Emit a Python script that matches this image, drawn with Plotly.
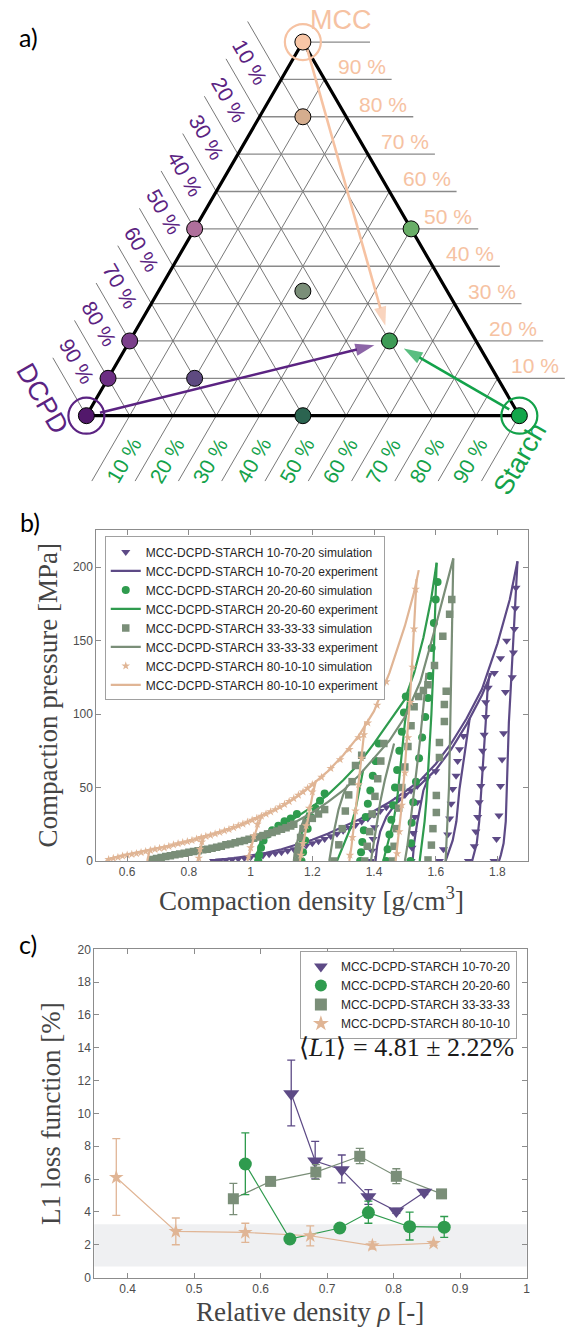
import plotly.graph_objects as go

W, H = 573, 1339
SQ3 = 3 ** 0.5 / 2

# ---------------- colours ----------------
C_PURPLE = "#5D4A86"
C_GREEN = "#2F9B4E"
C_GREY = "#7A8E78"
C_TAN = "#E0B595"
C_MCC = "#F6C2A2"
C_DCPD = "#5B2382"
C_STARCH = "#13A24A"
AX_COL = "#8C8C8C"
TICK_FONT = dict(family="Liberation Sans, Arial", size=12, color="#4D4D4D")
SERIF = "Liberation Serif, Times New Roman, serif"

# ---------------- panel a: mixture compositions (%) ----------------
grid_pct = [10, 20, 30, 40, 50, 60, 70, 80, 90]
mix_mcc = [100, 80, 50, 50, 33.3, 20, 20, 10, 10, 0, 0, 0]
mix_dcpd = [0, 10, 50, 0, 33.3, 20, 80, 90, 70, 50, 100, 0]
mix_starch = [0, 10, 0, 50, 33.3, 60, 0, 0, 20, 50, 0, 100]
mix_fill = ["#F8C6A6", "#D5AD8E", "#AF6F9B", "#69AE67", "#7A8E78", "#3E9B56",
            "#7B3F8B", "#6C2E83", "#5E4A80", "#2B6450", "#52186B", "#12A64A"]
pure_colors = [C_MCC, C_DCPD, C_STARCH]

# ---------------- panel b: compaction curves (density g/cm3, pressure MPa) ----------------
# MCC-DCPD-STARCH 10-70-20
purple_exp = [
    ([0.87, 0.90, 0.95, 1.00, 1.05, 1.10, 1.15, 1.20, 1.25, 1.30, 1.35, 1.40, 1.45, 1.50, 1.55,
      1.60, 1.65, 1.70, 1.75, 1.80, 1.84, 1.865],
     [0, 1, 2, 3.5, 5.5, 8, 11, 14.5, 18.5, 23, 28, 34, 40, 47, 55, 66, 80, 97, 117, 148, 178, 204]),
    ([1.405, 1.41, 1.42, 1.44, 1.47, 1.51, 1.55, 1.60, 1.65, 1.70, 1.75, 1.78],
     [0, 10, 20, 30, 39, 46, 52, 62, 76, 93, 113, 128]),
    ([1.525, 1.53, 1.54, 1.55, 1.56, 1.575], [0, 12, 26, 38, 48, 56]),
    ([1.632, 1.642, 1.655, 1.667, 1.677, 1.693, 1.71], [0, 6, 14, 27, 49, 72, 97]),
    ([1.718, 1.725, 1.733, 1.741, 1.752, 1.762, 1.768, 1.775], [0, 5, 12, 27, 60, 94, 117, 128]),
    ([1.805, 1.811, 1.82, 1.827, 1.832, 1.837, 1.843, 1.85, 1.858, 1.865],
     [0, 4, 12, 27, 60, 94, 117, 145, 175, 204]),
]
purple_sim = [
    ([0.88, 0.90, 0.92, 0.94, 0.96, 0.98, 1.00, 1.02, 1.04, 1.06, 1.08, 1.10, 1.12, 1.14, 1.16,
      1.18, 1.20, 1.22, 1.24, 1.26, 1.28, 1.30, 1.32, 1.34, 1.36, 1.38, 1.40, 1.42, 1.44, 1.46,
      1.48, 1.50, 1.52, 1.54, 1.57, 1.60],
     [0, 0.3, 0.7, 1, 1.5, 2, 2.5, 3, 3.7, 4.5, 5.2, 6, 7, 8, 9.2, 10.5, 12, 13.4, 15, 16.8, 18.6,
      20.5, 22.5, 24.5, 26.8, 29, 31.5, 34, 36.5, 39, 42, 45, 48, 51, 56, 61]),
    ([1.39, 1.393, 1.397, 1.402], [0, 7, 15, 23]),
    ([1.52, 1.523, 1.527, 1.532, 1.54], [0, 9, 19, 30, 40]),
    ([1.612, 1.625, 1.639, 1.645, 1.65, 1.655, 1.666, 1.671, 1.677, 1.69],
     [0, 8, 18, 29, 39, 49, 58, 68, 76, 85]),
    ([1.706, 1.725, 1.73, 1.736, 1.741, 1.746, 1.752, 1.752, 1.757, 1.762, 1.762],
     [0, 10, 20, 30, 40, 51, 63, 75, 86, 98, 108]),
    ([1.789, 1.797, 1.805, 1.81, 1.815, 1.82, 1.826], [0, 15, 31, 51, 69, 87, 115]),
    ([1.77, 1.79, 1.81, 1.83], [118, 128, 138, 150]),
    ([1.848, 1.852, 1.855, 1.858, 1.86], [125, 142, 158, 172, 186]),
]
# MCC-DCPD-STARCH 20-20-60
green_exp = [
    ([0.70, 0.75, 0.80, 0.85, 0.90, 0.95, 1.00, 1.05, 1.10, 1.15, 1.20, 1.25, 1.30, 1.35, 1.40,
      1.45, 1.50, 1.53, 1.56, 1.585, 1.60, 1.603],
     [0, 3, 5, 7, 9.5, 12.5, 16, 19.5, 24, 30, 37, 45, 55, 66, 80, 95, 110, 128, 152, 178, 198, 203]),
    ([1.015, 1.022, 1.032, 1.045], [0, 6, 13, 19.5]),
    ([1.147, 1.16, 1.174, 1.185], [0, 12, 27, 33]),
    ([1.28, 1.30, 1.323, 1.34, 1.352, 1.365], [0, 10, 22, 35, 48, 62]),
    ([1.43, 1.445, 1.463, 1.475, 1.484, 1.50, 1.516], [0, 12, 27, 42, 61, 94, 117]),
    ([1.548, 1.556, 1.564, 1.57, 1.575, 1.58, 1.586, 1.592, 1.598, 1.603],
     [0, 12, 27, 42, 60, 78, 100, 130, 165, 203]),
]
green_sim = [
    ([1.025, 1.028, 1.034, 1.042, 1.055, 1.07, 1.09, 1.11, 1.13, 1.15],
     [0, 4, 9, 14, 18, 21, 24, 27, 29, 32]),
    ([1.165, 1.17, 1.177, 1.185, 1.195, 1.21, 1.225, 1.24], [0, 6, 14, 22, 30, 36, 41, 46]),
    ([1.355, 1.358, 1.362, 1.367, 1.373, 1.38, 1.388, 1.396, 1.405, 1.415],
     [0, 6, 13, 21, 30, 39, 48, 58, 68, 80]),
    ([1.44, 1.444, 1.45, 1.456, 1.462, 1.468, 1.475, 1.482, 1.49, 1.497, 1.503],
     [0, 8, 18, 28, 38, 50, 62, 75, 88, 101, 112]),
    ([1.518, 1.52, 1.522, 1.527, 1.536, 1.546, 1.556, 1.566, 1.575, 1.581, 1.587, 1.594, 1.60, 1.606],
     [0, 12, 26, 40, 54, 70, 84, 98, 111, 126, 145, 162, 178, 190]),
]
# MCC-DCPD-STARCH 33-33-33
grey_exp = [
    ([0.67, 0.70, 0.75, 0.80, 0.85, 0.90, 0.95, 1.00, 1.05, 1.10, 1.15, 1.20, 1.25, 1.30, 1.35,
      1.40, 1.45, 1.50, 1.55, 1.60, 1.63, 1.657],
     [0, 2.5, 4.5, 6, 8, 10, 12.5, 15, 18, 22, 27, 33, 40, 48, 58, 70, 82, 98, 122, 160, 185, 206]),
    ([1.14, 1.145, 1.155, 1.165, 1.175], [0, 8, 16, 24, 29]),
    ([1.255, 1.262, 1.272, 1.285, 1.30, 1.315], [0, 10, 22, 35, 45, 52]),
    ([1.39, 1.397, 1.408, 1.42, 1.435, 1.45, 1.465], [0, 10, 25, 40, 55, 68, 80]),
    ([1.50, 1.508, 1.52, 1.535, 1.548, 1.56, 1.57], [0, 10, 30, 55, 80, 105, 128]),
    ([1.632, 1.635, 1.639, 1.643, 1.646, 1.65, 1.653, 1.657], [0, 12, 28, 50, 80, 117, 160, 206]),
]
grey_sim = [
    ([0.68, 0.695, 0.71, 0.725, 0.74, 0.755, 0.77, 0.785, 0.80, 0.815, 0.83, 0.845, 0.86, 0.875,
      0.89, 0.905, 0.92, 0.935, 0.95, 0.965, 0.98, 0.995, 1.01, 1.025, 1.04, 1.055, 1.07, 1.085,
      1.10, 1.115, 1.13, 1.14],
     [1, 1.7, 2.4, 3, 3.5, 4.2, 4.7, 5.2, 6, 6.4, 7, 7.6, 8, 8.6, 9.3, 10, 11, 11.6, 12.4, 13.2,
      14, 14.8, 15.5, 16.3, 17.3, 18.4, 19.4, 20.4, 21.6, 22.6, 23.8, 25]),
    ([1.15, 1.152, 1.156, 1.162, 1.17, 1.18, 1.20, 1.22, 1.24], [0, 5, 10, 16, 22, 26, 29, 32, 35]),
    ([1.27, 1.286, 1.297, 1.307, 1.318, 1.329, 1.34, 1.36], [0, 11, 22, 34, 45, 54, 65, 72]),
    ([1.37, 1.378, 1.386, 1.394, 1.403, 1.412, 1.422, 1.432], [0, 10, 20, 32, 44, 56, 68, 80]),
    ([1.46, 1.465, 1.472, 1.48, 1.49, 1.50, 1.51, 1.52, 1.53, 1.545, 1.56, 1.575, 1.596, 1.623,
      1.645, 1.652],
     [0, 10, 22, 36, 50, 64, 78, 92, 105, 112, 116, 120, 133, 153, 168, 178]),
    ([1.575, 1.586, 1.591, 1.602, 1.602, 1.612, 1.612, 1.628, 1.628, 1.634],
     [0.7, 10.8, 22, 33, 44.6, 70.5, 80.7, 95, 106.6, 115.6]),
]
# MCC-DCPD-STARCH 80-10-10
tan_exp = [
    ([0.53, 0.56, 0.60, 0.65, 0.70, 0.75, 0.80, 0.85, 0.90, 0.95, 1.00, 1.05, 1.10, 1.15, 1.20,
      1.25, 1.30, 1.35, 1.40, 1.45, 1.50, 1.53, 1.545],
     [0, 2.5, 4.5, 6.5, 8.5, 11, 13.5, 16.5, 19.5, 23, 27.5, 32, 37, 44, 52, 61, 72, 85, 102, 128,
      160, 183, 198]),
    ([0.665, 0.668, 0.672], [0, 3, 6.5]),
    ([0.83, 0.834, 0.84, 0.848], [0, 5, 10, 16]),
    ([0.99, 0.997, 1.008, 1.02, 1.035], [0, 6, 14, 22, 30]),
    ([1.16, 1.167, 1.178, 1.19, 1.20, 1.212], [0, 8, 20, 33, 44, 55]),
    ([1.32, 1.327, 1.337, 1.348, 1.358, 1.366, 1.372], [0, 10, 28, 48, 66, 82, 95]),
    ([1.47, 1.477, 1.487, 1.498, 1.508, 1.517, 1.525, 1.532, 1.538], [0, 12, 32, 58, 85, 112, 140, 168, 192]),
]
tan_sim = [
    ([0.54, 0.555, 0.57, 0.585, 0.60, 0.615, 0.63, 0.645, 0.66, 0.675, 0.69, 0.705, 0.72, 0.735,
      0.75, 0.765, 0.78, 0.795, 0.81, 0.825, 0.84, 0.855, 0.87, 0.885, 0.90, 0.915, 0.93, 0.945,
      0.96, 0.975, 0.99, 1.005, 1.02, 1.035, 1.05, 1.065, 1.08, 1.095, 1.11, 1.125, 1.14, 1.155,
      1.17, 1.185, 1.20, 1.23, 1.26, 1.29, 1.32, 1.35, 1.38, 1.41, 1.44],
     [1, 1.8, 2.5, 3.3, 4, 4.5, 5, 5.8, 6.5, 7.2, 8, 8.6, 9, 10, 11, 11.8, 12.5, 13.2, 14, 15,
      16, 16.8, 17.5, 18.5, 19.5, 20.5, 21.5, 22.8, 24, 25.2, 26.5, 27.8, 29, 30.5, 32, 33.5, 35,
      36.8, 38.5, 40.5, 42.5, 44.8, 47, 49.5, 52, 57, 63, 69, 76, 84, 94, 106, 122]),
    ([0.832, 0.836, 0.842], [2, 8, 13]),
    ([0.993, 1.0, 1.01, 1.022], [3, 9, 17, 25]),
    ([1.163, 1.17, 1.18, 1.19, 1.20], [4, 12, 24, 36, 47]),
    ([1.322, 1.33, 1.34, 1.35, 1.36, 1.367], [4, 16, 34, 52, 70, 86]),
    ([1.475, 1.482, 1.49, 1.50, 1.51, 1.518, 1.525, 1.53, 1.535], [5, 20, 38, 60, 84, 108, 132, 158, 185]),
]
rho_ticks_b = [0.6, 0.8, 1.0, 1.2, 1.4, 1.6, 1.8]
rho_ticktext_b = ["0.6", "0.8", "1", "1.2", "1.4", "1.6", "1.8"]
p_ticks_b = [0, 50, 100, 150, 200]

# ---------------- panel c: L1 loss vs relative density ----------------
l1_rho_purple = [0.646, 0.682, 0.722, 0.762, 0.804, 0.846]
l1_val_purple = [11.2, 7.1, 6.57, 4.92, 4.06, 5.2]
l1_up_purple = [2.05, 1.2, 0.9, 0.44, 0.15, 0.15]
l1_dn_purple = [1.96, 1.09, 0.8, 0.46, 0.15, 0.15]

l1_rho_green = [0.577, 0.644, 0.719, 0.762, 0.824, 0.876]
l1_val_green = [6.92, 2.35, 3.02, 3.96, 3.1, 3.07]
l1_up_green = [1.9, 0.1, 0.1, 0.7, 0.89, 0.65]
l1_dn_green = [1.87, 0.1, 0.1, 0.65, 0.81, 0.62]

l1_rho_grey = [0.559, 0.615, 0.683, 0.749, 0.804, 0.872]
l1_val_grey = [4.8, 5.86, 6.43, 7.39, 6.17, 5.1]
l1_up_grey = [0.94, 0.1, 0.45, 0.48, 0.46, 0.05]
l1_dn_grey = [0.96, 0.1, 0.45, 0.45, 0.45, 0.05]

l1_rho_tan = [0.383, 0.4725, 0.577, 0.6746, 0.768, 0.86]
l1_val_tan = [6.1, 2.81, 2.75, 2.55, 1.95, 2.09]
l1_up_tan = [2.37, 0.82, 0.56, 0.6, 0.22, 0.12]
l1_dn_tan = [2.31, 0.81, 0.6, 0.62, 0.22, 0.12]

band_lo, band_hi = 0.68, 3.25
rho_ticks_c = [0.4, 0.5, 0.6, 0.7, 0.8, 0.9, 1.0]
rho_ticktext_c = ["0.4", "0.5", "0.6", "0.7", "0.8", "0.9", "1"]
l1_ticks = [0, 2, 4, 6, 8, 10, 12, 14, 16, 18, 20]
l1_mean, l1_std = 4.81, 2.22

series_names = ["MCC-DCPD-STARCH 10-70-20", "MCC-DCPD-STARCH 20-20-60",
                "MCC-DCPD-STARCH 33-33-33", "MCC-DCPD-STARCH 80-10-10"]


def tern(m, d, s):
    t = m + d + s
    return (s + 0.5 * m) / t, SQ3 * m / t


def joined(branches):
    xs, ys = [], []
    for bx, by in branches:
        xs += list(bx) + [None]
        ys += list(by) + [None]
    return xs, ys


def note(**kw):
    base = dict(showarrow=False, xanchor="center", yanchor="middle")
    base.update(kw)
    return base


fig = go.Figure()
ann = []

# ================= panel a =================
EXT = 0.155
EXT_S = 0.175
for k in grid_pct + [100]:
    f = k / 100
    # MCC iso-lines (horizontal), extended past the right edge
    fig.add_trace(go.Scatter(x=[0.5 * f, 1 - 0.5 * f + EXT], y=[SQ3 * f, SQ3 * f], mode="lines",
                             line=dict(color="#8A8A8A", width=1.3), xaxis="x3", yaxis="y3",
                             showlegend=False, hoverinfo="skip"))
    # DCPD iso-lines, extended past the left edge
    lx, ly = (1 - f) * 0.5, (1 - f) * SQ3
    fig.add_trace(go.Scatter(x=[1 - f, lx, lx - 0.5 * EXT], y=[0, ly, ly + SQ3 * EXT], mode="lines",
                             line=dict(color="#555555", width=0.8), xaxis="x3", yaxis="y3",
                             showlegend=False, hoverinfo="skip"))
    # Starch iso-lines, extended below the base
    rx, ry = 0.5 + 0.5 * f, SQ3 * (1 - f)
    fig.add_trace(go.Scatter(x=[rx, f, f - 0.5 * EXT_S], y=[ry, 0, -SQ3 * EXT_S], mode="lines",
                             line=dict(color="#555555", width=0.8), xaxis="x3", yaxis="y3",
                             showlegend=False, hoverinfo="skip"))

# triangle outline
fig.add_trace(go.Scatter(x=[0, 1, 0.5, 0], y=[0, 0, SQ3, 0], mode="lines",
                         line=dict(color="black", width=3.2), xaxis="x3", yaxis="y3",
                         showlegend=False, hoverinfo="skip"))

# rings around the pure components
ring_xy = [tern(100, 0, 0), tern(0, 100, 0), tern(0, 0, 100)]
fig.add_trace(go.Scatter(x=[p[0] for p in ring_xy], y=[p[1] for p in ring_xy], mode="markers",
                         marker=dict(symbol="circle-open", size=36, color=pure_colors,
                                     line=dict(width=2.2)),
                         xaxis="x3", yaxis="y3", showlegend=False, hoverinfo="skip"))

# arrows from each pure component towards the 20-20-60 mixture
arrows = [((0.5103, 0.8486), (0.6904, 0.2087), C_MCC),
          ((0.0314, 0.0069), (0.6651, 0.1635), C_DCPD),
          ((0.9766, 0.0144), (0.7330, 0.1560), C_STARCH)]
for (tx, ty), (hx, hy), col in arrows:
    fig.add_trace(go.Scatter(x=[tx, hx], y=[ty, hy], mode="lines+markers",
                             line=dict(color=col, width=2.6),
                             marker=dict(symbol=["circle", "arrow"], size=[0, 20], color=col,
                                         angleref="previous", line=dict(width=0)),
                             xaxis="x3", yaxis="y3", showlegend=False, hoverinfo="skip"))

# composition points
pts = [tern(m, d, s) for m, d, s in zip(mix_mcc, mix_dcpd, mix_starch)]
fig.add_trace(go.Scatter(x=[p[0] for p in pts], y=[p[1] for p in pts], mode="markers",
                         marker=dict(size=16, color=mix_fill, line=dict(color="black", width=1)),
                         xaxis="x3", yaxis="y3", showlegend=False))

# percentage labels
u_d = (-0.5, SQ3)
n_d = (-SQ3, -0.5)
u_s = (-0.5, -SQ3)
n_s = (SQ3, -0.5)
lab_font = "Liberation Sans, Arial"
for k in grid_pct:
    f = k / 100
    ann.append(note(x=1 - 0.5 * f + EXT - 0.069, y=SQ3 * f + 0.029, xref="x3", yref="y3",
                    text=f"{k} %", font=dict(family=lab_font, size=21, color=C_MCC)))
    lx, ly = (1 - f) * 0.5, (1 - f) * SQ3
    ann.append(note(x=lx + 0.07 * u_d[0] + 0.042 * n_d[0], y=ly + 0.07 * u_d[1] + 0.042 * n_d[1],
                    xref="x3", yref="y3", text=f"{k} %", textangle=60,
                    font=dict(family=lab_font, size=21, color=C_DCPD)))
    ann.append(note(x=f + 0.097 * u_s[0] + 0.04 * n_s[0], y=0.097 * u_s[1] + 0.04 * n_s[1],
                    xref="x3", yref="y3", text=f"{k} %", textangle=-60,
                    font=dict(family=lab_font, size=21, color=C_STARCH)))

ann.append(note(x=0.589, y=0.916, xref="x3", yref="y3", text="MCC",
                font=dict(family=lab_font, size=27, color=C_MCC)))
ann.append(note(x=-0.101, y=0.039, xref="x3", yref="y3", text="DCPD", textangle=60,
                font=dict(family=lab_font, size=27, color=C_DCPD)))
ann.append(note(x=1.001, y=-0.100, xref="x3", yref="y3", text="Starch", textangle=-60,
                font=dict(family=lab_font, size=27, color=C_STARCH)))

# ================= panel b =================
groups_b = [
    (purple_sim, purple_exp, C_PURPLE, "triangle-down", 8, series_names[0]),
    (green_sim, green_exp, C_GREEN, "circle", 8, series_names[1]),
    (grey_sim, grey_exp, C_GREY, "square", 7.5, series_names[2]),
    (tan_sim, tan_exp, C_TAN, "star", 6.5, series_names[3]),
]
for sim, exp, col, sym, msz, name in groups_b:
    sx, sy = joined(sim)
    fig.add_trace(go.Scatter(x=sx, y=sy, mode="markers", name=f"{name} simulation",
                             marker=dict(symbol=sym, size=msz, color=col, line=dict(width=0)),
                             xaxis="x", yaxis="y", legend="legend"))
    ex, ey = joined(exp)
    fig.add_trace(go.Scatter(x=ex, y=ey, mode="lines", name=f"{name} experiment",
                             line=dict(color=col, width=2.2), connectgaps=False,
                             xaxis="x", yaxis="y", legend="legend"))

# ================= panel c =================
fig.add_shape(type="rect", xref="x2 domain", yref="y2", x0=0, x1=1, y0=band_lo, y1=band_hi,
              fillcolor="#EFF0F2", line=dict(width=0), layer="below")

groups_c = [
    (l1_rho_purple, l1_val_purple, l1_up_purple, l1_dn_purple, C_PURPLE, "triangle-down", 14),
    (l1_rho_green, l1_val_green, l1_up_green, l1_dn_green, C_GREEN, "circle", 13),
    (l1_rho_grey, l1_val_grey, l1_up_grey, l1_dn_grey, C_GREY, "square", 11),
    (l1_rho_tan, l1_val_tan, l1_up_tan, l1_dn_tan, C_TAN, "star", 11),
]
for rx, vy, up, dn, col, sym, msz in groups_c:
    fig.add_trace(go.Scatter(x=rx, y=vy, mode="lines", line=dict(color=col, width=1.2),
                             xaxis="x2", yaxis="y2", showlegend=False, hoverinfo="skip"))
for (rx, vy, up, dn, col, sym, msz), name in zip(groups_c, series_names):
    fig.add_trace(go.Scatter(x=rx, y=vy, mode="markers", name=name,
                             marker=dict(symbol=sym, size=msz, color=col, line=dict(width=0)),
                             error_y=dict(type="data", array=up, arrayminus=dn, symmetric=False,
                                          color=col, thickness=1.3, width=4),
                             xaxis="x2", yaxis="y2", legend="legend2"))

ann.append(note(x=520 / W, y=1 - 1051 / H, xref="paper", yref="paper", xanchor="right",
                text=f"⟨<i>L</i>1⟩ = {l1_mean:.2f} ± {l1_std:.2f}%",
                font=dict(family=SERIF, size=26, color="#1A1A1A")))

# axis titles
title_font = dict(family=SERIF, size=27, color="#444444")
ann.append(note(x=314 / W, y=1 - 901 / H, xref="paper", yref="paper",
                text="Compaction density [g/cm<sup>3</sup>]", font=title_font))
ann.append(note(x=48 / W, y=1 - 696 / H, xref="paper", yref="paper", textangle=-90,
                text="Compaction pressure [MPa]", font=title_font))
ann.append(note(x=312 / W, y=1 - 1319 / H, xref="paper", yref="paper",
                text="Relative density <i>ρ</i> [-]", font=title_font))
ann.append(note(x=52 / W, y=1 - 1118 / H, xref="paper", yref="paper", textangle=-90,
                text="L1 loss function [%]", font=title_font))

# panel letters
for letter, (px, py) in zip(["a)", "b)", "c)"], [(29, 30), (30, 520), (28, 947)]):
    ann.append(note(x=px / W, y=1 - py / H, xref="paper", yref="paper", text=letter,
                    font=dict(family="Lato, Noto Sans, sans-serif", size=25, color="black")))

axis_common = dict(showline=True, linecolor=AX_COL, linewidth=1, mirror="allticks", ticks="inside",
                   ticklen=5, tickcolor=AX_COL, showgrid=False, zeroline=False, tickfont=TICK_FONT)

fig.update_layout(
    width=W, height=H, margin=dict(l=0, r=0, t=0, b=0),
    paper_bgcolor="white", plot_bgcolor="white",
    xaxis=dict(domain=[97 / W, 532 / W], anchor="y", range=[0.5, 1.9],
               tickvals=rho_ticks_b, ticktext=rho_ticktext_b, **axis_common),
    yaxis=dict(domain=[1 - 863 / H, 1 - 529 / H], anchor="x", range=[0, 225],
               tickvals=p_ticks_b, **axis_common),
    xaxis2=dict(domain=[95 / W, 530.4 / W], anchor="y2", range=[0.35, 1.0],
                tickvals=rho_ticks_c, ticktext=rho_ticktext_c, **axis_common),
    yaxis2=dict(domain=[1 - 1284 / H, 1 - 952.3 / H], anchor="x2", range=[0, 20],
                tickvals=l1_ticks, **axis_common),
    xaxis3=dict(domain=[0, 1], anchor="y3", range=[-87 / 436, 486 / 436], visible=False),
    yaxis3=dict(domain=[1 - 500 / H, 1], anchor="x3", range=[(413 - 500) / 436, 413 / 436], visible=False),
    legend=dict(x=105.5 / W, y=1 - 535 / H, xanchor="left", yanchor="top", bgcolor="white",
                bordercolor="#A0A0A0", borderwidth=1, tracegroupgap=0,
                font=dict(family="Liberation Sans, Arial", size=12, color="#262626")),
    legend2=dict(x=302 / W, y=1 - 954 / H, xanchor="left", yanchor="top", bgcolor="white",
                 bordercolor="#A0A0A0", borderwidth=1, tracegroupgap=0, itemsizing="constant",
                 font=dict(family="Liberation Sans, Arial", size=12, color="#262626")),
    annotations=ann,
)

fig.write_html("out.html")
